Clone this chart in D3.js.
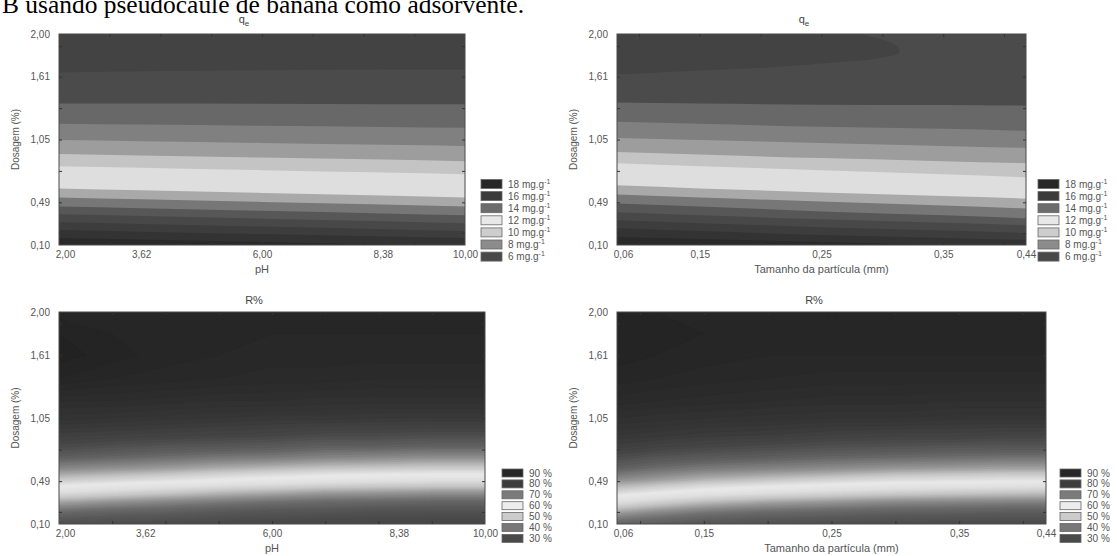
<!DOCTYPE html>
<html><head><meta charset="utf-8">
<script src="https://cdn.jsdelivr.net/npm/d3@7"></script>
<style>
body{margin:0;background:#fff;}
text{font-family:"Liberation Sans",Arial,sans-serif;}
</style>
</head><body>
<svg id="chart" width="1117" height="556"></svg>
<script>
// ---------------- DATA ----------------
const headerText = "B usando pseudocaule de banana como adsorvente.";
const codedLevels = [-1.68, -1, 0, 1, 1.68];

const pHTicks = [2, 3.62, 6, 8.38, 10];
const pHTickLabels = ["2,00", "3,62", "6,00", "8,38", "10,00"];
const sizeTicks = [0.06, 0.15, 0.25, 0.35, 0.44];
const sizeTickLabels = ["0,06", "0,15", "0,25", "0,35", "0,44"];
const doseTicks = [0.10, 0.49, 1.05, 1.61, 2.00];
const doseTickLabels = ["0,10", "0,49", "1,05", "1,61", "2,00"];
const pHMinor = [3, 4, 5, 6, 7, 8, 9];
const sizeMinor = [0.084, 0.15, 0.20, 0.25, 0.30, 0.35, 0.416];
const doseMinor = [0.21, 0.49, 0.77, 1.05, 1.33, 1.61, 1.89];

// q_e contour levels (mg/g) and band colours (from below level 6 up to above 18)
const qeLevels = [6, 7, 8, 9, 10, 11, 12, 13, 14, 15, 16, 17, 18];
const qeBandColors = ["#434343", "#4b4b4b", "#686868", "#808080", "#9d9d9d", "#c4c4c4", "#dedede",
                      "#a9a9a9", "#777777", "#575757", "#484848", "#3d3d3d", "#333333", "#2a2a2a"];
const qeLegendLabels = ["18", "16", "14", "12", "10", "8", "6"];
const qeLegendColors = ["#272727", "#3b3b3b", "#6c6c6c", "#e8e8e8", "#cdcdcd", "#8c8c8c", "#484848"];

// q_e vs pH: dosage (%) of each level boundary (6..18) at these pH values
const qePHX = [2, 3.62, 6, 8.38, 10];
const qePHBounds = [
  [1.649, 1.660, 1.670, 1.675, 1.676],
  [1.370, 1.370, 1.368, 1.365, 1.365],
  [1.190, 1.183, 1.172, 1.161, 1.154],
  [1.046, 1.035, 1.019, 1.003, 0.992],
  [0.920, 0.907, 0.889, 0.871, 0.857],
  [0.812, 0.797, 0.776, 0.755, 0.740],
  [0.614, 0.598, 0.574, 0.550, 0.533],
  [0.533, 0.517, 0.493, 0.469, 0.452],
  [0.452, 0.436, 0.412, 0.388, 0.371],
  [0.380, 0.364, 0.340, 0.316, 0.299],
  [0.308, 0.292, 0.268, 0.244, 0.227],
  [0.236, 0.222, 0.200, 0.178, 0.164],
  [0.164, 0.150, 0.128, 0.106, 0.092]
];
// q_e vs particle size: closed outline of the level-6 lobe, then boundaries of levels 7..18
const qeSizeLobeX    = [0.03, 0.03,  0.06,  0.15,  0.205, 0.26,  0.30,  0.314, 0.312, 0.300, 0.284, 0.27];
const qeSizeLobeDose = [2.20, 1.625, 1.631, 1.667, 1.694, 1.739, 1.784, 1.830, 1.890, 1.950, 2.000, 2.10];
const qeSizeX = [0.06, 0.15, 0.25, 0.35, 0.44];
const qeSizeBounds = [
  [1.379, 1.370, 1.361, 1.357, 1.352],
  [1.208, 1.190, 1.163, 1.145, 1.127],
  [1.064, 1.046, 1.019, 0.992, 0.974],
  [0.938, 0.916, 0.884, 0.857, 0.839],
  [0.839, 0.812, 0.776, 0.740, 0.713],
  [0.641, 0.614, 0.578, 0.546, 0.524],
  [0.560, 0.533, 0.497, 0.461, 0.434],
  [0.479, 0.452, 0.407, 0.371, 0.344],
  [0.398, 0.371, 0.335, 0.304, 0.281],
  [0.326, 0.299, 0.263, 0.232, 0.209],
  [0.254, 0.227, 0.191, 0.164, 0.146],
  [0.173, 0.155, 0.128, 0.100, 0.070]
];

// R% surfaces read on a grid (rows = dosage, bottom to top)
const rDose = [0.10, 0.20, 0.30, 0.40, 0.50, 0.60, 0.70, 0.80, 0.90, 1.05, 1.20, 1.40, 1.61, 1.80, 2.00];
const rPHCols = [2, 3, 4, 5, 6, 7, 8, 9, 10];
const rPHValues = [
  [32, 31, 30, 29.5, 29, 28, 28, 27.5, 27.5],
  [38.5, 37, 36, 34.5, 33.5, 33, 32, 32, 32],
  [46.5, 44.5, 43, 41.5, 40, 39, 38.5, 38, 38],
  [56, 54, 52, 50, 48.5, 47, 46.5, 46, 46],
  [64.5, 63, 61.5, 60, 58.5, 57, 56, 55.5, 55.5],
  [70.5, 69.5, 68.5, 67, 66, 65, 64.5, 64, 64],
  [75.5, 74.5, 73.5, 72.5, 72, 71, 70.5, 70, 70],
  [79.5, 78.5, 77.5, 77, 76.5, 75.5, 75.5, 75, 75],
  [82.5, 82, 81.5, 81, 80.5, 79.5, 79.5, 79, 79],
  [86.5, 86, 85.5, 85, 84.5, 84.5, 84, 84, 84],
  [89, 89, 88.5, 88, 88, 87.5, 87.5, 87.5, 87.5],
  [93, 92, 91.5, 91, 90.5, 90.5, 90, 90, 90],
  [94.5, 93.5, 92.5, 92, 91.5, 91.5, 91.5, 91.5, 91.5],
  [94, 93, 92.5, 92, 92, 92, 92, 92, 92],
  [92.5, 92, 92, 92, 92, 92, 92.5, 92.5, 92.5]
];
const rSizeCols = [0.06, 0.10, 0.15, 0.20, 0.25, 0.30, 0.35, 0.40, 0.44];
const rSizeValues = [
  [37.5, 36, 34, 32.5, 31.5, 30.5, 30, 30, 30],
  [45.5, 43, 40.5, 38.5, 37.5, 36.5, 36, 35.5, 35.5],
  [55, 52, 49, 46.5, 45, 43.5, 43, 42.5, 42.5],
  [63.5, 61.5, 59, 56.5, 54.5, 53, 52, 51.5, 51],
  [70, 68.5, 66.5, 65, 63.5, 62, 61.5, 61, 61],
  [75, 73.5, 72, 71, 70, 69, 68.5, 68, 68],
  [79, 77.5, 76.5, 75.5, 74.5, 74, 73.5, 73, 73],
  [82.5, 81.5, 80.5, 79.5, 78.5, 78, 77.5, 77.5, 77.5],
  [85, 84.5, 83.5, 83, 82, 81.5, 81.5, 81, 81],
  [88, 87.5, 87, 86.5, 86, 86, 85.5, 85.5, 85.5],
  [90.5, 90, 89.5, 89, 88.5, 88.5, 88, 88, 88],
  [92.5, 92, 91.5, 91, 90.5, 90.5, 90.5, 90.5, 90.5],
  [93.5, 93, 92.5, 92, 92, 92, 92, 92, 92],
  [93.5, 93, 93, 92.5, 92.5, 92.5, 92.5, 92.5, 92.5],
  [93, 93, 92.5, 92.5, 92.5, 92.5, 92.5, 92.5, 92.5]
];
const rThresholdMin = 26, rThresholdMax = 96, rThresholdStep = 1;
const rColorStops = [25, 30, 35, 40, 45, 50, 55, 60, 65, 70, 75, 80, 85, 90, 93, 96];
const rColorGreys = ["#444444", "#4a4a4a", "#585858", "#6e6e6e", "#959595", "#c4c4c4", "#dfdfdf", "#e9e9e9",
                     "#c8c8c8", "#8e8e8e", "#626262", "#474747", "#363636", "#2b2b2b", "#252525", "#1f1f1f"];
const rLegendLabels = ["90 %", "80 %", "70 %", "60 %", "50 %", "40 %", "30 %"];
const rLegendColors = ["#262626", "#3c3c3c", "#7b7b7b", "#ececec", "#cbcbcb", "#787878", "#4a4a4a"];

// ---------------- DRAWING ----------------
const svg = d3.select("#chart");
svg.append("rect").attr("width", 1117).attr("height", 556).attr("fill", "#fff");

svg.append("text").attr("x", 2).attr("y", 13)
  .attr("textLength", 522).attr("lengthAdjust", "spacingAndGlyphs")
  .style("font-family", "'Liberation Serif','Times New Roman',serif")
  .style("font-size", "25px").attr("fill", "#000").text(headerText);

const rColor = d3.scaleLinear().domain(rColorStops).range(rColorGreys).interpolate(d3.interpolateRgb);
let clipId = 0;

function makePanel(p) {
  const g = svg.append("g");
  const codedX = d3.scaleLinear().domain([-1.68, 1.68]).range([p.x0, p.x1]);
  const x = d3.scaleLinear().domain(p.xTicks).range(codedLevels.map(codedX));
  const codedY = d3.scaleLinear().domain([-1.68, 1.68]).range([p.y1, p.y0]);
  const y = d3.scaleLinear().domain(doseTicks).range(codedLevels.map(codedY));

  const id = "clip" + (clipId++);
  g.append("clipPath").attr("id", id).append("rect")
    .attr("x", p.x0).attr("y", p.y0).attr("width", p.x1 - p.x0).attr("height", p.y1 - p.y0);
  const plot = g.append("g").attr("clip-path", `url(#${id})`);

  p.draw(plot, x, y, p);

  g.append("rect").attr("x", p.x0).attr("y", p.y0).attr("width", p.x1 - p.x0).attr("height", p.y1 - p.y0)
    .attr("fill", "none").attr("stroke", "#4a4a4a").attr("stroke-width", 1);

  const tickStyle = sel => { sel.select(".domain").remove(); sel.selectAll("line").attr("stroke", "#333"); sel.selectAll("text").remove(); };
  g.append("g").attr("transform", `translate(0,${p.y1})`).call(d3.axisBottom(x).tickValues(p.xMinor).tickSize(-3)).call(tickStyle);
  g.append("g").attr("transform", `translate(0,${p.y0})`).call(d3.axisTop(x).tickValues(p.xMinor).tickSize(-3)).call(tickStyle);
  g.append("g").attr("transform", `translate(${p.x0},0)`).call(d3.axisLeft(y).tickValues(doseMinor).tickSize(-3)).call(tickStyle);
  g.append("g").attr("transform", `translate(${p.x1},0)`).call(d3.axisRight(y).tickValues(doseMinor).tickSize(-3)).call(tickStyle);

  const lab = sel => {
    sel.select(".domain").remove();
    sel.selectAll("line").remove();
    sel.selectAll("text").attr("fill", "#555").style("font-size", "10px").style("font-family", "'Liberation Sans',Arial,sans-serif");
  };
  const xa = g.append("g").attr("transform", `translate(0,${p.y1})`)
    .call(d3.axisBottom(x).tickValues(p.xTicks).tickFormat((d, i) => p.xLabels[i]).tickSize(0).tickPadding(6)).call(lab);
  xa.selectAll("text").filter((d, i) => i === 0).attr("dx", 6);
  g.append("g").attr("transform", `translate(${p.x0},0)`)
    .call(d3.axisLeft(y).tickValues(doseTicks).tickFormat((d, i) => doseTickLabels[i]).tickSize(0).tickPadding(9)).call(lab);

  const t = g.append("text").attr("x", p.titleX).attr("y", p.titleY).attr("text-anchor", "middle")
    .attr("fill", "#444").style("font-size", "11px");
  if (p.title === "qe") { t.text("q"); t.append("tspan").attr("dy", 3).style("font-size", "8px").text("e"); }
  else t.text(p.title);

  g.append("text").attr("x", (p.x0 + p.x1) / 2).attr("y", p.y1 + 28).attr("text-anchor", "middle")
    .attr("fill", "#555").style("font-size", "11px").text(p.xTitle);
  g.append("text").attr("transform", `translate(${p.x0 - 40},${(p.y0 + p.y1) / 2}) rotate(-90)`)
    .attr("text-anchor", "middle").attr("fill", "#555").style("font-size", "10px").text("Dosagem (%)");

  const lg = g.append("g");
  p.legendLabels.forEach((l, i) => {
    const cy = p.legY + i * p.legStep;
    lg.append("rect").attr("x", p.legX).attr("y", cy - p.legH / 2).attr("width", 21).attr("height", p.legH)
      .attr("fill", p.legendColors[i]).attr("stroke", "#666").attr("stroke-width", 0.8);
    const tx = lg.append("text").attr("x", p.legX + 27).attr("y", cy + 3.5).attr("fill", "#555").style("font-size", "10px");
    if (p.unit === "mg") {
      tx.text(l + " mg.g");
      tx.append("tspan").attr("dy", -4).style("font-size", "7px").text("-1");
    } else tx.text(l);
  });
}

function drawBands(bounds, lobe) {
  return (plot, x, y, p) => {
    plot.append("rect").attr("x", p.x0).attr("y", p.y0).attr("width", p.x1 - p.x0).attr("height", p.y1 - p.y0)
      .attr("fill", lobe ? qeBandColors[1] : qeBandColors[0]);
    const offset = lobe ? 1 : 0;
    if (lobe) {
      const line = d3.line().x((d, j) => x(lobe.x[j])).y(d => y(d)).curve(d3.curveCatmullRom);
      plot.append("path").datum(lobe.d).attr("d", line(lobe.d) + "Z").attr("fill", qeBandColors[0]);
    }
    bounds.forEach((b, i) => {
      const area = d3.area()
        .x((d, j) => x(b.x[j]))
        .y0(p.y1 + 30)
        .y1(d => y(d))
        .curve(d3.curveMonotoneX);
      plot.append("path").datum(b.d).attr("d", area).attr("fill", qeBandColors[i + 1 + offset]);
    });
  };
}

function drawSurface(cols, values) {
  return (plot, x, y, p) => {
    const n = cols.length, m = rDose.length;
    const flat = [];
    values.forEach(row => row.forEach(v => flat.push(v)));
    const thr = d3.range(rThresholdMin, rThresholdMax + 0.001, rThresholdStep);
    const contours = d3.contours().size([n, m]).thresholds(thr)(flat);
    const ix = d3.scaleLinear().domain(d3.range(n)).range(cols.map(x));
    const iy = d3.scaleLinear().domain(d3.range(m)).range(rDose.map(y));
    const proj = d3.geoTransform({ point(px, py) { this.stream.point(ix(px - 0.5), iy(py - 0.5)); } });
    const path = d3.geoPath(proj);
    plot.append("rect").attr("x", p.x0).attr("y", p.y0).attr("width", p.x1 - p.x0).attr("height", p.y1 - p.y0)
      .attr("fill", rColor(d3.min(flat)));
    plot.selectAll("path.c").data(contours).join("path").attr("class", "c")
      .attr("d", path).attr("fill", d => rColor(d.value + rThresholdStep / 2))
      .attr("stroke", d => rColor(d.value + rThresholdStep / 2)).attr("stroke-width", 0.3);
  };
}

const qePHBoundList = qePHBounds.map(d => ({ x: qePHX, d }));
const qeSizeBoundList = qeSizeBounds.map(d => ({ x: qeSizeX, d }));
const qeSizeLobe = { x: qeSizeLobeX, d: qeSizeLobeDose };

makePanel({ x0: 59, x1: 465, y0: 34, y1: 245, xTicks: pHTicks, xLabels: pHTickLabels, xMinor: pHMinor,
  title: "qe", titleX: 244, titleY: 23, xTitle: "pH", draw: drawBands(qePHBoundList, null),
  legendLabels: qeLegendLabels, legendColors: qeLegendColors, unit: "mg", legX: 481, legY: 184, legStep: 12.1, legH: 9 });
makePanel({ x0: 617, x1: 1026, y0: 34, y1: 245, xTicks: sizeTicks, xLabels: sizeTickLabels, xMinor: sizeMinor,
  title: "qe", titleX: 804, titleY: 23, xTitle: "Tamanho da partícula (mm)", draw: drawBands(qeSizeBoundList, qeSizeLobe),
  legendLabels: qeLegendLabels, legendColors: qeLegendColors, unit: "mg", legX: 1038, legY: 184, legStep: 12.1, legH: 9 });
makePanel({ x0: 59, x1: 485, y0: 312, y1: 524, xTicks: pHTicks, xLabels: pHTickLabels, xMinor: pHMinor,
  title: "R%", titleX: 254, titleY: 304, xTitle: "pH", draw: drawSurface(rPHCols, rPHValues),
  legendLabels: rLegendLabels, legendColors: rLegendColors, unit: "%", legX: 502, legY: 473, legStep: 10.9, legH: 8 });
makePanel({ x0: 617, x1: 1046, y0: 312, y1: 524, xTicks: sizeTicks, xLabels: sizeTickLabels, xMinor: sizeMinor,
  title: "R%", titleX: 814, titleY: 304, xTitle: "Tamanho da partícula (mm)", draw: drawSurface(rSizeCols, rSizeValues),
  legendLabels: rLegendLabels, legendColors: rLegendColors, unit: "%", legX: 1060, legY: 473, legStep: 10.9, legH: 8 });
</script>
</body></html>
